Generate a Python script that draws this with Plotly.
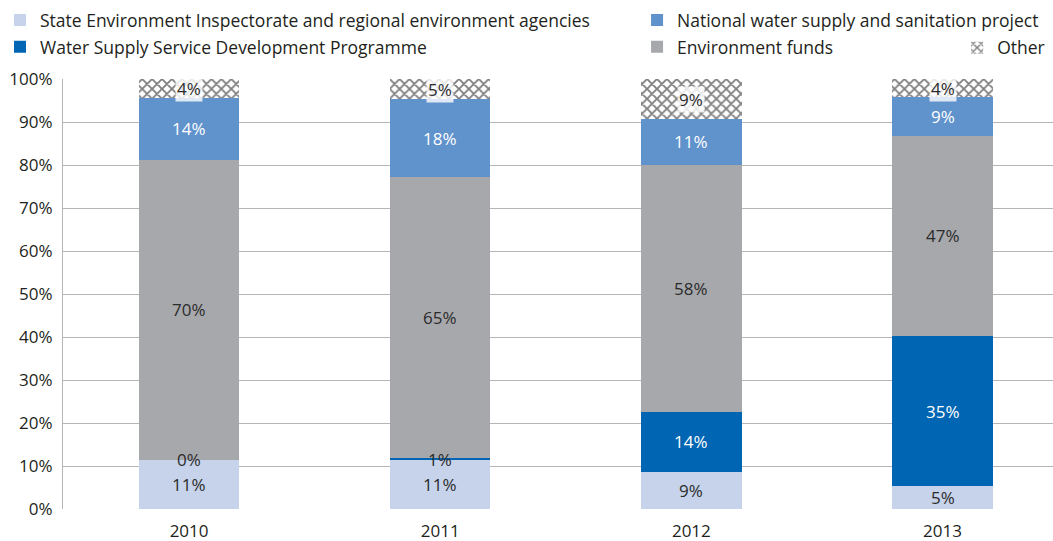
import plotly.graph_objects as go

# Shares of water-sector funding by source (per cent, per year)
years = ["2010", "2011", "2012", "2013"]
state_env = [11.4, 11.3, 8.7, 5.3]
water_prog = [0.0, 0.6, 13.8, 34.9]
env_funds = [69.6, 65.2, 57.6, 46.6]
national_proj = [14.3, 18.2, 10.6, 8.9]
other = [4.4, 4.7, 9.3, 4.3]

DARK = "#2b2b2b"
series = [
    ("State Environment Inspectorate and regional environment agencies", state_env, "#c6d3ea", DARK, "legend"),
    ("Water Supply Service Development Programme", water_prog, "#0066b3", "#ffffff", "legend"),
    ("Environment funds", env_funds, "#a7a8ab", DARK, "legend2"),
    ("National water supply and sanitation project", national_proj, "#6092cc", "#ffffff", "legend2"),
    ("Other", other, "#ffffff", DARK, "legend3"),
]

FONT = "Open Sans"
TXT = "#231f20"

fig = go.Figure()
rank = {"State Environment Inspectorate and regional environment agencies": 1,
        "Water Supply Service Development Programme": 2,
        "National water supply and sanitation project": 1,
        "Environment funds": 2,
        "Other": 1}
for name, vals, color, _, leg in series:
    marker = dict(color=color, line=dict(width=0))
    if name == "Other":
        marker = dict(color="#ffffff", line=dict(width=0),
                      pattern=dict(shape="x", fgcolor="#000000", bgcolor="#ffffff",
                                   size=7, solidity=0.45))
    fig.add_trace(go.Bar(
        x=years, y=vals, name=name, marker=marker, width=0.4,
        legend=leg, legendgroup=name, legendrank=rank[name],
        hoverinfo="skip",
    ))

# Value labels at segment midpoints (bars are normalised to 100 %)
totals = [sum(s[1][i] for s in series) for i in range(len(years))]
for i, yr in enumerate(years):
    base = 0.0
    for name, vals, _, tcolor, _ in series:
        h = vals[i] / totals[i] * 100
        mid = base + h / 2
        kw = {}
        if name == "Other":
            kw = dict(bgcolor="rgba(255,255,255,0.8)")
        color = tcolor if h >= 3 else DARK  # thin segments: label sits over neighbours
        fig.add_annotation(x=i, y=mid, xref="x", yref="y", text=f"{vals[i]:.0f}%",
                           showarrow=False, font=dict(family=FONT, size=17, color=color), **kw)
        base += h

fig.update_layout(
    barmode="stack",
    barnorm="percent",
    width=1053, height=541,
    margin=dict(l=63, r=0, t=79, b=32, autoexpand=False),
    paper_bgcolor="#ffffff", plot_bgcolor="#ffffff",
    font=dict(family=FONT, size=17, color=TXT),
    xaxis=dict(range=[-0.502, 3.44], showgrid=False, showline=False, ticks="",
               ticklabelstandoff=10,
               tickfont=dict(size=17, color=TXT), fixedrange=True),
    yaxis=dict(range=[0, 100], tickvals=list(range(0, 101, 10)),
               ticktext=[f"{v}%" for v in range(0, 101, 10)],
               showgrid=True, gridcolor="#b5b5b5", gridwidth=1.3,
               showline=True, linecolor="#b5b5b5", linewidth=1.3,
               zeroline=False, ticks="", ticklabelstandoff=6,
               tickfont=dict(size=17, color=TXT), fixedrange=True),
    legend=dict(xref="container", yref="container", x=0.0, y=0.996, xanchor="left", yanchor="top",
                orientation="v", tracegroupgap=1, font=dict(size=17.5, color=TXT),
                bgcolor="rgba(0,0,0,0)"),
    legend2=dict(xref="container", yref="container", x=0.605, y=0.996, xanchor="left", yanchor="top",
                 orientation="v", tracegroupgap=1, font=dict(size=17.5, color=TXT),
                 bgcolor="rgba(0,0,0,0)"),
    legend3=dict(xref="container", yref="container", x=0.909, y=0.945, xanchor="left", yanchor="top",
                 orientation="v", font=dict(size=17.5, color=TXT),
                 bgcolor="rgba(0,0,0,0)"),
)

fig.write_html("out.html")
